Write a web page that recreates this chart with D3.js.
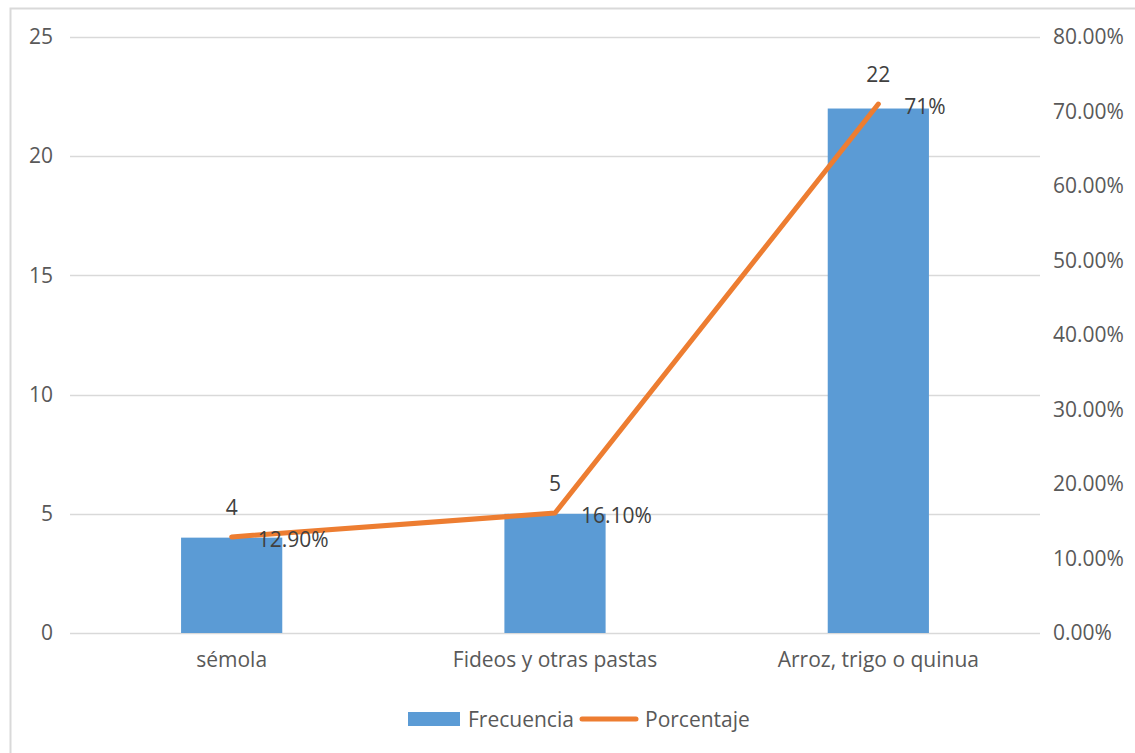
<!DOCTYPE html>
<html><head><meta charset="utf-8">
<script src="https://cdn.jsdelivr.net/npm/d3@7"></script>
<style>body{margin:0;background:#fff;}svg{display:block;font-family:"Open Sans",sans-serif;}</style>
</head><body>
<script>
const categories = ["sémola", "Fideos y otras pastas", "Arroz, trigo o quinua"];
const frecuencia = [4, 5, 22];
const porcentaje = [0.129, 0.161, 0.71];
const porcentajeLabels = ["12.90%", "16.10%", "71%"];
const leftTicks = [0, 5, 10, 15, 20, 25];
const rightTicks = [0, 0.1, 0.2, 0.3, 0.4, 0.5, 0.6, 0.7, 0.8];

const W = 1135, H = 753;
const m = {left: 70, right: 95, top: 37, bottom: 120};
const FONT = "Open Sans";
const svg = d3.select("body").append("svg").attr("width", W).attr("height", H);
svg.append("rect").attr("x", 10.5).attr("y", 8.5).attr("width", W).attr("height", H)
  .attr("fill", "none").attr("stroke", "#d9d9d9").attr("stroke-width", 2);

const x = d3.scaleBand().domain(categories).range([m.left, W - m.right]).paddingInner(0).paddingOuter(0);
const yL = d3.scaleLinear().domain([0, 25]).range([H - m.bottom, m.top]);
const yR = d3.scaleLinear().domain([0, 0.8]).range([H - m.bottom, m.top]);
const textColor = "#595959";
const fs = 21;

// gridlines
svg.append("g").selectAll("line").data(leftTicks).join("line")
  .attr("x1", m.left).attr("x2", W - m.right)
  .attr("y1", d => Math.round(yL(d)) + 0.5).attr("y2", d => Math.round(yL(d)) + 0.5)
  .attr("stroke", "#d9d9d9").attr("stroke-width", 1.5);

function styleAxis(g) {
  g.select(".domain").remove();
  g.attr("font-size", fs).attr("font-family", FONT);
  g.selectAll("text").attr("fill", textColor);
}

// left axis
svg.append("g").attr("transform", `translate(${m.left},0)`)
  .call(d3.axisLeft(yL).tickValues(leftTicks).tickSize(0).tickPadding(17)).call(styleAxis);

// right axis
svg.append("g").attr("transform", `translate(${W - m.right},0)`)
  .call(d3.axisRight(yR).tickValues(rightTicks).tickSize(0).tickPadding(13).tickFormat(d3.format(".2%"))).call(styleAxis);

// bottom axis
svg.append("g").attr("transform", `translate(0,${H - m.bottom})`)
  .call(d3.axisBottom(x).tickSize(0).tickPadding(19)).call(styleAxis);

// bars
const bw = x.bandwidth() * 0.313;
svg.append("g").selectAll("rect").data(frecuencia).join("rect")
  .attr("x", (d, i) => x(categories[i]) + x.bandwidth() / 2 - bw / 2)
  .attr("width", bw)
  .attr("y", d => yL(d)).attr("height", d => yL(0) - yL(d))
  .attr("fill", "#5b9bd5");

// line
const line = d3.line().x((d, i) => x(categories[i]) + x.bandwidth() / 2).y(d => yR(d));
svg.append("path").datum(porcentaje).attr("d", line)
  .attr("fill", "none").attr("stroke", "#ed7d31").attr("stroke-width", 5)
  .attr("stroke-linecap", "round").attr("stroke-linejoin", "round");

// bar labels
svg.append("g").attr("font-size", fs).attr("font-family", FONT).selectAll("text").data(frecuencia).join("text")
  .attr("x", (d, i) => x(categories[i]) + x.bandwidth() / 2)
  .attr("y", (d, i) => yR(porcentaje[i]) - 22)
  .attr("text-anchor", "middle").attr("fill", "#404040")
  .text(d => d);

// percent labels
svg.append("g").attr("font-size", fs).attr("font-family", FONT).selectAll("text").data(porcentaje).join("text")
  .attr("x", (d, i) => x(categories[i]) + x.bandwidth() / 2 + 26)
  .attr("y", d => yR(d) + 10)
  .attr("fill", "#404040")
  .text((d, i) => porcentajeLabels[i]);

// legend
const lg = svg.append("g").attr("font-family", FONT).attr("font-size", fs);
lg.append("rect").attr("x", 408).attr("y", 712).attr("width", 52).attr("height", 14).attr("fill", "#5b9bd5");
lg.append("text").attr("x", 468).attr("y", 727).attr("fill", textColor).text("Frecuencia");
lg.append("line").attr("x1", 582).attr("x2", 636).attr("y1", 719).attr("y2", 719)
  .attr("stroke", "#ed7d31").attr("stroke-width", 5).attr("stroke-linecap", "round");
lg.append("text").attr("x", 645).attr("y", 727).attr("fill", textColor).text("Porcentaje");
</script>
</body></html>
